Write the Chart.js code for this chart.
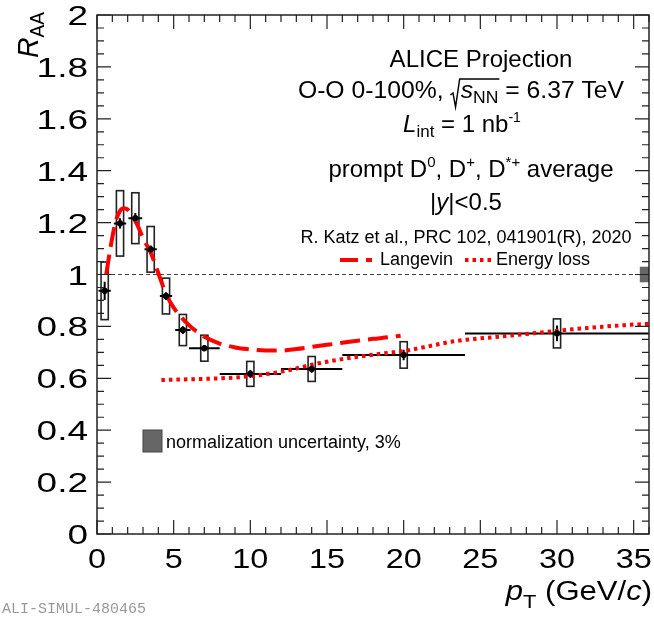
<!DOCTYPE html>
<html>
<head>
<meta charset="utf-8">
<script src="https://cdn.jsdelivr.net/npm/chart.js@4.4.0/dist/chart.umd.min.js"></script>
<style>
html,body{margin:0;padding:0;background:#fff;}
canvas{display:block;}
</style>
</head>
<body>
<canvas id="raaChart" width="654" height="619"></canvas>
<script>
/*===================================================================
   Data
==================================================================*/
const ptVals      = [0.5, 1.5, 2.5, 3.5, 4.5, 5.6, 7, 10, 14, 20, 30]
const ptHalfWidth = [0.4, 0.4, 0.45, 0.4, 0.4, 0.5, 1, 2, 2, 4, 6]
const raaVals     = [0.937, 1.197, 1.217, 1.097, 0.917, 0.786, 0.716, 0.617, 0.636, 0.690, 0.773]
const statErr     = [0.035, 0.02, 0.02, 0.015, 0.015, 0.015, 0.012, 0.015, 0.015, 0.02, 0.03]
const sysErr      = [0.111, 0.126, 0.098, 0.088, 0.069, 0.06, 0.05, 0.048, 0.048, 0.051, 0.056]

// Langevin model (dashed)
const langevinPt  = [0.6, 0.9, 1.2, 1.5, 1.75, 2.0, 2.3, 2.6, 3.0, 3.5, 4.0, 4.5, 5.0, 5.5, 6.0, 6.5, 7.0, 8.0, 9.0, 10, 11, 12, 13, 14, 15, 16, 17, 18, 19, 19.8]
const langevinRaa = [1.00, 1.11, 1.20, 1.245, 1.255, 1.25, 1.225, 1.195, 1.14, 1.085, 1.005, 0.925, 0.872, 0.835, 0.805, 0.78, 0.76, 0.734, 0.719, 0.711, 0.707, 0.707, 0.713, 0.721, 0.729, 0.737, 0.745, 0.752, 0.758, 0.764]

// Energy loss model (dotted)
const elossPt  = [4.2, 5, 6, 7, 8, 9, 10, 11, 12, 13, 14, 15, 16, 17, 18, 19, 20, 21, 22, 23, 24, 25, 26, 27, 28, 29, 30, 31, 32, 33, 34, 35, 36]
const elossRaa = [0.593, 0.595, 0.596, 0.598, 0.600, 0.603, 0.608, 0.616, 0.625, 0.638, 0.652, 0.664, 0.674, 0.683, 0.691, 0.698, 0.705, 0.716, 0.728, 0.740, 0.748, 0.754, 0.759, 0.765, 0.771, 0.777, 0.783, 0.789, 0.794, 0.799, 0.803, 0.807, 0.810]

// axis ticks
const xTickLabels = [0, 5, 10, 15, 20, 25, 30, 35]
const yTickLabels = [0, 0.2, 0.4, 0.6, 0.8, 1, 1.2, 1.4, 1.6, 1.8, 2]

// normalisation uncertainty (3%)
const normUnc = 0.03

/*===================================================================
   helpers
==================================================================*/
const FONT = '"Liberation Sans", Arial, sans-serif'
const zip = (xs, ys) => xs.map((x, i) => ({ x: x, y: ys[i] }))

// draws a row of text pieces (sub/superscripts, italics)
const drawRich = (ctx, parts, x, y, align, sx) => {
  sx = sx || 1
  let w = 0
  parts.forEach(p => {
    if (p.t) { ctx.font = p.f; w += ctx.measureText(p.t).width }
    if (p.gap) w += p.gap
  })
  let x0 = x
  if (align === 'center') x0 = x - w * sx / 2
  if (align === 'right') x0 = x - w * sx
  ctx.save()
  ctx.translate(x0, y)
  ctx.scale(sx, 1)
  ctx.textBaseline = 'alphabetic'
  ctx.textAlign = 'left'
  let px = 0, sq = 0
  parts.forEach(p => {
    if (p.sqrt === 'open') { sq = px }
    if (p.sqrt === 'close') {
      ctx.beginPath()
      ctx.lineWidth = 1.4
      ctx.strokeStyle = '#000'
      ctx.moveTo(sq, -3)
      ctx.lineTo(sq + 2.5, -5)
      ctx.lineTo(sq + 5, 9)
      ctx.lineTo(sq + 9, -19)
      ctx.lineTo(px + 1, -19)
      ctx.stroke()
    }
    if (p.t) {
      ctx.font = p.f
      ctx.fillStyle = p.c || '#000'
      ctx.fillText(p.t, px, p.dy || 0)
      px += ctx.measureText(p.t).width
    }
    if (p.gap) px += p.gap
  })
  ctx.restore()
}

/*===================================================================
   ROOT-like frame, error boxes and text
==================================================================*/
const rootStyle = {
  id: 'rootStyle',
  beforeDatasetsDraw(chart) {
    const ctx = chart.ctx
    const xs = chart.scales.x, ys = chart.scales.y
    const area = chart.chartArea
    ctx.save()
    // systematic boxes
    ctx.strokeStyle = '#222'
    ctx.lineWidth = 1.6
    ptVals.forEach((pt, i) => {
      const xc = xs.getPixelForValue(pt)
      const yt = ys.getPixelForValue(raaVals[i] + sysErr[i])
      const yb = ys.getPixelForValue(raaVals[i] - sysErr[i])
      ctx.strokeRect(xc - 3.6, yt, 7.2, yb - yt)
    })
    // stat / bin width bars
    ctx.strokeStyle = '#000'
    ctx.lineWidth = 2
    ptVals.forEach((pt, i) => {
      const y = ys.getPixelForValue(raaVals[i])
      ctx.beginPath()
      ctx.moveTo(xs.getPixelForValue(pt - ptHalfWidth[i]), y)
      ctx.lineTo(Math.min(area.right, xs.getPixelForValue(pt + ptHalfWidth[i])), y)
      ctx.moveTo(xs.getPixelForValue(pt), ys.getPixelForValue(raaVals[i] - statErr[i]))
      ctx.lineTo(xs.getPixelForValue(pt), ys.getPixelForValue(raaVals[i] + statErr[i]))
      ctx.stroke()
    })
    // normalisation box at the right edge
    const nt = ys.getPixelForValue(1 + normUnc), nb = ys.getPixelForValue(1 - normUnc)
    const nl = xs.getPixelForValue(35.4)
    ctx.fillStyle = '#666'
    ctx.fillRect(nl, nt, area.right - nl, nb - nt)
    ctx.restore()
  },
  afterDraw(chart) {
    const ctx = chart.ctx
    const xs = chart.scales.x, ys = chart.scales.y
    const a = chart.chartArea
    ctx.save()
    // frame
    ctx.strokeStyle = '#222'
    ctx.lineWidth = 1.5
    ctx.strokeRect(a.left, a.top, a.right - a.left, a.bottom - a.top)
    // inward ticks
    ctx.lineWidth = 1.2
    ctx.beginPath()
    for (let v = 0; v <= 36; v++) {
      const px = xs.getPixelForValue(v)
      const len = v % 5 === 0 ? 14 : 7
      ctx.moveTo(px, a.bottom); ctx.lineTo(px, a.bottom - len)
      ctx.moveTo(px, a.top); ctx.lineTo(px, a.top + len)
    }
    for (let k = 0; k <= 40; k++) {
      const py = ys.getPixelForValue(k * 0.05)
      const len = k % 4 === 0 ? 14 : 7
      ctx.moveTo(a.left, py); ctx.lineTo(a.left + len, py)
      ctx.moveTo(a.right, py); ctx.lineTo(a.right - len, py)
    }
    ctx.stroke()

    // tick labels
    ctx.fillStyle = '#000'
    yTickLabels.forEach(v => {
      drawRich(ctx, [{ t: String(v), f: '28px ' + FONT }], a.left - 9, ys.getPixelForValue(v) + 10, 'right', 1.32)
    })
    xTickLabels.forEach(v => {
      drawRich(ctx, [{ t: String(v), f: '27px ' + FONT }], xs.getPixelForValue(v), a.bottom + 34, 'center', 1.2)
    })

    // axis titles
    drawRich(ctx, [
      { t: 'p', f: 'italic 27px ' + FONT },
      { t: 'T', f: '19px ' + FONT, dy: 8 },
      { t: ' (GeV/', f: '27px ' + FONT },
      { t: 'c', f: 'italic 27px ' + FONT },
      { t: ')', f: '27px ' + FONT }
    ], 652, 600, 'right', 1.15)
    ctx.save()
    ctx.translate(38, 58)
    ctx.rotate(-Math.PI / 2)
    drawRich(ctx, [
      { t: 'R', f: 'italic 30px ' + FONT },
      { t: 'AA', f: '20px ' + FONT, dy: 6 }
    ], 0, 0, 'left', 0.95)
    ctx.restore()

    // ALICE text block
    const F24 = '24px ' + FONT
    drawRich(ctx, [{ t: 'ALICE Projection', f: F24 }], 481, 67, 'center')
    drawRich(ctx, [
      { t: 'O-O 0-100%, ', f: F24 },
      { sqrt: 'open', gap: 10 },
      { t: 's', f: 'italic 24px ' + FONT },
      { t: 'NN', f: '17px ' + FONT, dy: 5 },
      { sqrt: 'close' },
      { t: ' = 6.37 TeV', f: F24 }
    ], 461, 98, 'center', 1.03)
    drawRich(ctx, [
      { t: 'L', f: 'italic 24px ' + FONT },
      { t: 'int', f: '17px ' + FONT, dy: 5 },
      { t: ' = 1 nb', f: F24 },
      { t: '-1', f: '14px ' + FONT, dy: -10 }
    ], 462, 132, 'center')
    drawRich(ctx, [
      { t: 'prompt D', f: F24 },
      { t: '0', f: '15px ' + FONT, dy: -10 },
      { t: ', D', f: F24 },
      { t: '+', f: '15px ' + FONT, dy: -10 },
      { t: ', D', f: F24 },
      { t: '*+', f: '15px ' + FONT, dy: -10 },
      { t: ' average', f: F24 }
    ], 471, 177, 'center')
    drawRich(ctx, [
      { t: '|', f: F24 },
      { t: 'y', f: 'italic 24px ' + FONT },
      { t: '|<0.5', f: F24 }
    ], 466, 210, 'center')
    drawRich(ctx, [{ t: 'R. Katz et al., PRC 102, 041901(R), 2020', f: '18px ' + FONT }], 466, 243, 'center')

    // model legend
    ctx.strokeStyle = '#ff0000'
    ctx.lineWidth = 4
    ctx.setLineDash([18, 8])
    ctx.beginPath(); ctx.moveTo(340, 260); ctx.lineTo(372, 260); ctx.stroke()
    ctx.setLineDash([3.5, 4])
    ctx.beginPath(); ctx.moveTo(465, 260); ctx.lineTo(493, 260); ctx.stroke()
    ctx.setLineDash([])
    drawRich(ctx, [{ t: 'Langevin', f: '18px ' + FONT }], 380, 265, 'left')
    drawRich(ctx, [{ t: 'Energy loss', f: '18px ' + FONT }], 496, 265, 'left')

    // normalisation legend
    ctx.fillStyle = '#666'
    ctx.fillRect(143, 430, 19, 22)
    ctx.strokeStyle = '#444'
    ctx.lineWidth = 1
    ctx.strokeRect(143, 430, 19, 22)
    drawRich(ctx, [{ t: 'normalization uncertainty, 3%', f: '18px ' + FONT }], 166, 448, 'left')

    // figure id
    drawRich(ctx, [{ t: 'ALI-SIMUL-480465', f: '15px "Liberation Mono", monospace', c: '#999' }], 2, 613, 'left')
    ctx.restore()
  }
}

/*===================================================================
   Chart
==================================================================*/
const ctx = document.getElementById('raaChart').getContext('2d')
const raaChart = new Chart(ctx, {
  type: 'scatter',
  data: {
    datasets: [
      {
        label: 'D mesons',
        data: zip(ptVals, raaVals),
        pointRadius: 2.8,
        pointBackgroundColor: '#000',
        pointBorderColor: '#000',
        showLine: false,
        order: 0
      },
      {
        label: 'Langevin',
        type: 'line',
        data: zip(langevinPt, langevinRaa),
        borderColor: '#ff0000',
        borderWidth: 4,
        borderDash: [20, 8],
        pointRadius: 0,
        cubicInterpolationMode: 'monotone',
        fill: false,
        order: 1
      },
      {
        label: 'Energy loss',
        type: 'line',
        data: zip(elossPt, elossRaa),
        borderColor: '#ff0000',
        borderWidth: 4,
        borderDash: [3.5, 4],
        pointRadius: 0,
        cubicInterpolationMode: 'monotone',
        fill: false,
        order: 2
      },
      {
        label: 'unity',
        type: 'line',
        data: [{ x: 0, y: 1 }, { x: 36, y: 1 }],
        borderColor: '#444',
        borderWidth: 1,
        borderDash: [4, 3],
        pointRadius: 0,
        order: 3
      }
    ]
  },
  options: {
    responsive: false,
    animation: false,
    devicePixelRatio: 1,
    layout: { padding: { left: 97, right: 3, top: 15, bottom: 85 } },
    plugins: { legend: { display: false }, tooltip: { enabled: false } },
    scales: {
      x: { type: 'linear', min: 0, max: 36, display: false },
      y: { type: 'linear', min: 0, max: 2, display: false }
    }
  },
  plugins: [rootStyle]
})
</script>
</body>
</html>
